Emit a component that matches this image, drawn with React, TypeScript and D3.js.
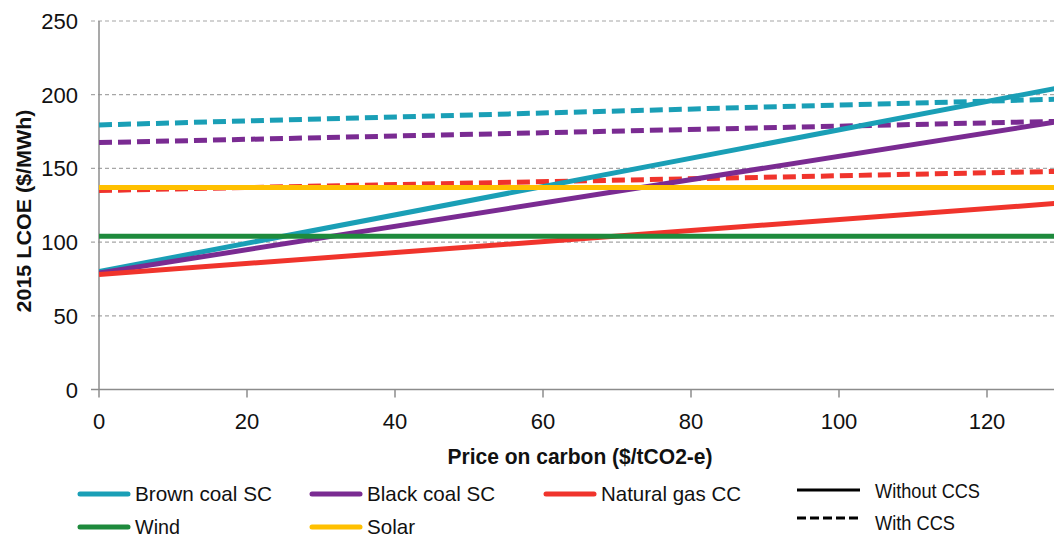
import React from 'react';
import * as d3 from 'd3';

// carbon price endpoints ($/tCO2-e)
const carbonPrice = [0, 130];

const seriesNames = ['Brown coal SC', 'Black coal SC', 'Natural gas CC', 'Wind', 'Solar'];
const seriesColors = ['#1a9fb6', '#7a2b92', '#f0342c', '#1e8a3c', '#ffc000'];

// LCOE without CCS at each carbon price
const withoutCCS = [
  [80, 205],
  [79, 182],
  [78, 126.5],
  [104, 104],
  [137, 137],
];

// LCOE with CCS (only fossil options)
const withCCSNames = ['Brown coal SC', 'Black coal SC', 'Natural gas CC'];
const withCCS = [
  [179.5, 197],
  [167.5, 182],
  [135, 148],
];

const yTicks = [0, 50, 100, 150, 200, 250];
const xTicks = [0, 20, 40, 60, 80, 100, 120];

const W = 1054, H = 538;
const font = '"Liberation Sans", Arial, sans-serif';

export default function App() {
  const x = d3.scaleLinear().domain([0, 130]).range([99, 1061]);
  const y = d3.scaleLinear().domain([0, 250]).range([389.5, 21]);
  const line = d3.line<[number, number]>().x(d => x(d[0])).y(d => y(d[1]));
  const pts = (vals: number[]) => carbonPrice.map((c, i) => [c, vals[i]] as [number, number]);

  // legend layout: 3 columns, 2 rows
  const legendCols = [78, 310, 544];
  const legendRows = [494, 527];
  const textLens = [137, 128, 140, 45, 48];

  return (
    <svg width={W} height={H} style={{ position: 'absolute', left: 0, top: 0, background: '#fff' }} fontFamily={font}>
      <defs>
        <clipPath id="plot">
          <rect x={99} y={0} width={W - 99} height={392} />
        </clipPath>
      </defs>

      {/* gridlines */}
      {yTicks.filter(t => t > 0).map(t => (
        <line key={t} x1={91} x2={W} y1={y(t)} y2={y(t)} stroke="#a6a6a6" strokeWidth={1.2} strokeDasharray="4,3" />
      ))}

      {/* y axis */}
      <line x1={99} x2={99} y1={21} y2={y(0)} stroke="#8c8c8c" strokeWidth={1.5} />
      <line x1={91} x2={99} y1={y(0)} y2={y(0)} stroke="#8c8c8c" strokeWidth={1.5} />
      {yTicks.map(t => (
        <text key={t} x={78} y={y(t) + 8} textAnchor="end" fontSize={22} fill="#111">{t}</text>
      ))}
      <text transform={`translate(31,211) rotate(-90)`} textAnchor="middle" fontSize={21} fontWeight="bold" fill="#111"
        textLength={203} lengthAdjust="spacingAndGlyphs">2015 LCOE ($/MWh)</text>

      {/* x axis */}
      <line x1={99} x2={W} y1={y(0)} y2={y(0)} stroke="#8c8c8c" strokeWidth={1.5} />
      {xTicks.map(t => (
        <g key={t}>
          <line x1={x(t)} x2={x(t)} y1={y(0)} y2={y(0) + 8} stroke="#8c8c8c" strokeWidth={1.5} />
          <text x={x(t)} y={429} textAnchor="middle" fontSize={22} fill="#111">{t}</text>
        </g>
      ))}
      <text x={580} y={464} textAnchor="middle" fontSize={22} fontWeight="bold" fill="#111"
        textLength={265} lengthAdjust="spacingAndGlyphs">Price on carbon ($/tCO2-e)</text>

      {/* series */}
      <g clipPath="url(#plot)">
        {withCCS.map((vals, i) => (
          <path key={'ccs' + i} d={line(pts(vals)) || ''} fill="none"
            stroke={seriesColors[seriesNames.indexOf(withCCSNames[i])]} strokeWidth={5} strokeDasharray="13,6" />
        ))}
        {withoutCCS.map((vals, i) => (
          <path key={'s' + i} d={line(pts(vals)) || ''} fill="none" stroke={seriesColors[i]} strokeWidth={5} />
        ))}
      </g>

      {/* legend */}
      {seriesNames.map((name, i) => {
        const col = i % 3, row = Math.floor(i / 3);
        const lx = legendCols[col], ly = legendRows[row];
        return (
          <g key={name}>
            <line x1={lx + 2} x2={lx + 50} y1={ly} y2={ly} stroke={seriesColors[i]} strokeWidth={5} strokeLinecap="round" />
            <text x={lx + 57} y={ly + 7} fontSize={21} fill="#111" textLength={textLens[i]} lengthAdjust="spacingAndGlyphs">{name}</text>
          </g>
        );
      })}
      <line x1={797} x2={860} y1={490} y2={490} stroke="#000" strokeWidth={3} />
      <text x={875} y={498} fontSize={21} fill="#111" textLength={105} lengthAdjust="spacingAndGlyphs">Without CCS</text>
      <line x1={797} x2={862} y1={518} y2={518} stroke="#000" strokeWidth={3} strokeDasharray="9,4" />
      <text x={875} y={530} fontSize={21} fill="#111" textLength={80} lengthAdjust="spacingAndGlyphs">With CCS</text>
    </svg>
  );
}
